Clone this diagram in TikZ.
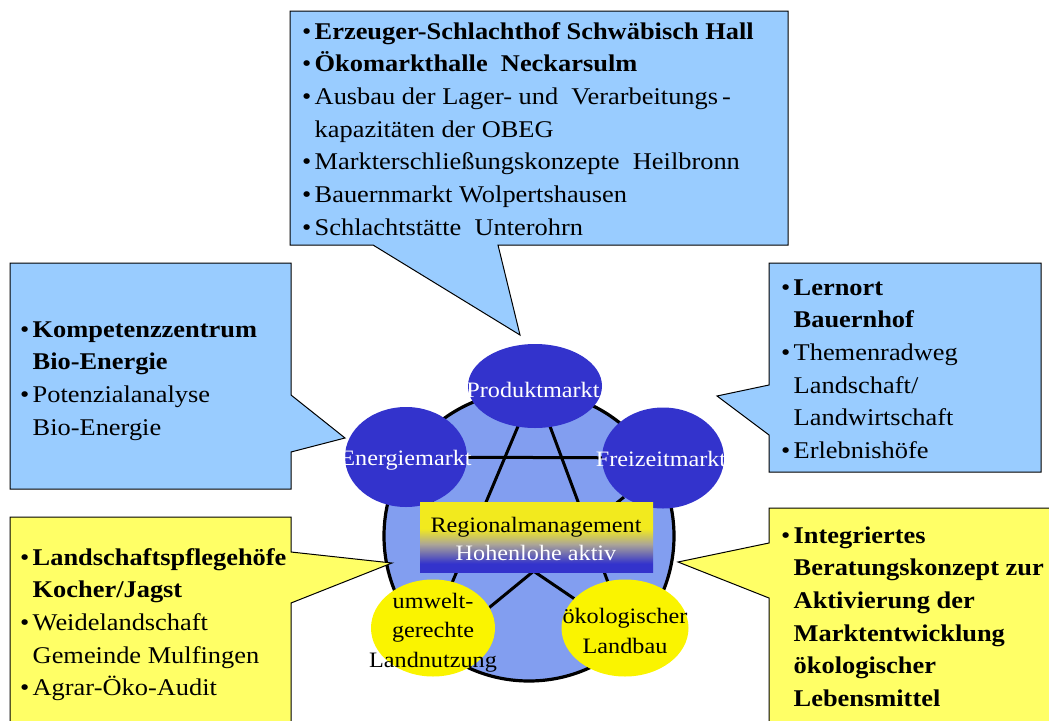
\documentclass[tikz,border=0pt]{standalone}
\usepackage{fontspec}
\setmainfont[FakeStretch=1.1]{Liberation Serif}
\usetikzlibrary{shapes.geometric}
\definecolor{bubblue}{RGB}{153,204,255}
\definecolor{bubyel}{RGB}{255,255,102}
\definecolor{dblue}{RGB}{51,51,204}
\definecolor{ringfill}{RGB}{130,158,240}
\definecolor{ellyel}{RGB}{250,244,0}
\definecolor{rgyellow}{RGB}{242,234,30}
\definecolor{rggray}{RGB}{172,166,150}
\pgfdeclareverticalshading{regshade}{100bp}{color(0bp)=(dblue); color(31bp)=(dblue); color(45bp)=(rggray); color(56bp)=(rgyellow); color(100bp)=(rgyellow)}
\pgfdeclarelayer{ringlayer}
\pgfdeclarelayer{linelayer}
\pgfsetlayers{ringlayer,linelayer,main}
\newcommand\itm{\makebox[12.5pt][l]{\textbullet}}
\newcommand\cnt{\hspace*{12.5pt}}
\tikzset{
  bubble/.style={draw=black, line width=1pt, line join=miter},
  btext/.style={anchor=base west, inner sep=0pt, font=\fontsize{24}{32.7}\selectfont},
  mkt/.style={ellipse, fill=dblue, inner sep=0pt},
  yel/.style={ellipse, fill=ellyel, inner sep=0pt},
  lbl/.style={anchor=base, inner sep=0pt, font=\fontsize{22}{29.5}\selectfont},
  starline/.style={draw=black, line width=3pt}
}
\begin{document}
\begin{tikzpicture}[x=1pt,y=-1pt]
\useasboundingbox (0,0) rectangle (1049,720);
\clip (0,0) rectangle (1049,720);
% ring
\begin{pgfonlayer}{ringlayer}
\node[circle, draw=black, line width=3.2pt, fill=ringfill, minimum size=290pt, inner sep=0pt] (ring) at (529,536) {};
\end{pgfonlayer}
% market ellipses
\node[mkt, minimum width=134pt, minimum height=84pt] (produkt) at (535,386) {};
\node[mkt, minimum width=122pt, minimum height=100pt] (energie) at (406,457) {};
\node[mkt, minimum width=122pt, minimum height=101pt] (frei) at (663,458) {};
\node[yel, minimum width=124pt, minimum height=97pt] (umwelt) at (433,628) {};
\node[yel, minimum width=127pt, minimum height=97pt] (oeko) at (625,628) {};
% star lines (behind ellipses)
\begin{pgfonlayer}{linelayer}
\draw[starline] (produkt.center) -- (umwelt.center);
\draw[starline] (produkt.center) -- (oeko.center);
\draw[starline] (energie.center) -- (frei.center);
\draw[starline] (frei.225) -- (umwelt.20);
\draw[starline] (energie.300) -- (oeko.150);
\end{pgfonlayer}
% regional management box
\node[shading=regshade, minimum width=233pt, minimum height=70pt, inner sep=0pt] (reg) at (536.5,537) {};
% labels
\node[lbl, text=white] (produkt-l) at (533,397) {Produktmarkt};
\node[lbl, text=white] (energie-l) at (406,465) {Energiemarkt};
\node[lbl, text=white] (frei-l) at (661,466) {Freizeitmarkt};
\node[lbl] (reg-l1) at (536,532) {Regionalmanagement};
\node[lbl, text=white] (reg-l2) at (536,560) {Hohenlohe aktiv};
\node[lbl] (umwelt-l) at (433,608) {\begin{tabular}[t]{@{}c@{}}umwelt-\\gerechte\\Landnutzung\end{tabular}};
\node[lbl, font=\fontsize{22}{30}\selectfont] (oeko-l) at (625,623) {\begin{tabular}[t]{@{}c@{}}ökologischer\\Landbau\end{tabular}};
% bubbles
\path[bubble, fill=bubblue] (290,11) -- (788,11) -- (788,245) -- (498,245) -- (520,335) -- (373,245) -- (290,245) -- cycle;
\path[bubble, fill=bubblue] (10,263) -- (291,263) -- (291,395) -- (345,438) -- (291,452) -- (291,489) -- (10,489) -- cycle;
\path[bubble, fill=bubblue] (769,263) -- (1041,263) -- (1041,472) -- (769,472) -- (769,435) -- (717,396) -- (769,385) -- cycle;
\path[bubble, fill=bubyel] (10,517) -- (291,517) -- (291,552) -- (392,563) -- (291,603) -- (291,740) -- (10,740) -- cycle;
\path[bubble, fill=bubyel] (769,508) -- (1070,508) -- (1070,740) -- (769,740) -- (769,598) -- (678,562) -- (769,543) -- cycle;
% bubble texts
\node[btext] (top-t) at (302,39) {\begin{tabular}[t]{@{}l@{}}
\itm\textbf{Erzeuger-Schlachthof Schwäbisch Hall}\\
\itm\textbf{Ökomarkthalle\ \ Neckarsulm}\\
\itm Ausbau der Lager- und\ \ Verarbeitungs\,-\\
\cnt kapazitäten der OBEG\\
\itm Markterschließungskonzepte\ \ Heilbronn\\
\itm Bauernmarkt Wolpertshausen\\
\itm Schlachtstätte\ \ Unterohrn
\end{tabular}};
\node[btext] (left-t) at (20,337) {\begin{tabular}[t]{@{}l@{}}
\itm\textbf{Kompetenzzentrum}\\
\cnt\textbf{Bio-Energie}\\
\itm Potenzialanalyse\\
\cnt Bio-Energie
\end{tabular}};
\node[btext] (right-t) at (781,295) {\begin{tabular}[t]{@{}l@{}}
\itm\textbf{Lernort}\\
\cnt\textbf{Bauernhof}\\
\itm Themenradweg\\
\cnt Landschaft/\\
\cnt Landwirtschaft\\
\itm Erlebnishöfe
\end{tabular}};
\node[btext] (lyel-t) at (20,565) {\begin{tabular}[t]{@{}l@{}}
\itm\textbf{Landschaftspflegehöfe}\\
\cnt\textbf{Kocher/Jagst}\\
\itm Weidelandschaft\\
\cnt Gemeinde Mulfingen\\
\itm Agrar-Öko-Audit
\end{tabular}};
\node[btext] (ryel-t) at (781,543) {\begin{tabular}[t]{@{}l@{}}
\itm\textbf{Integriertes}\\
\cnt\textbf{Beratungskonzept zur}\\
\cnt\textbf{Aktivierung der}\\
\cnt\textbf{Marktentwicklung}\\
\cnt\textbf{ökologischer}\\
\cnt\textbf{Lebensmittel}
\end{tabular}};
\end{tikzpicture}
\end{document}
